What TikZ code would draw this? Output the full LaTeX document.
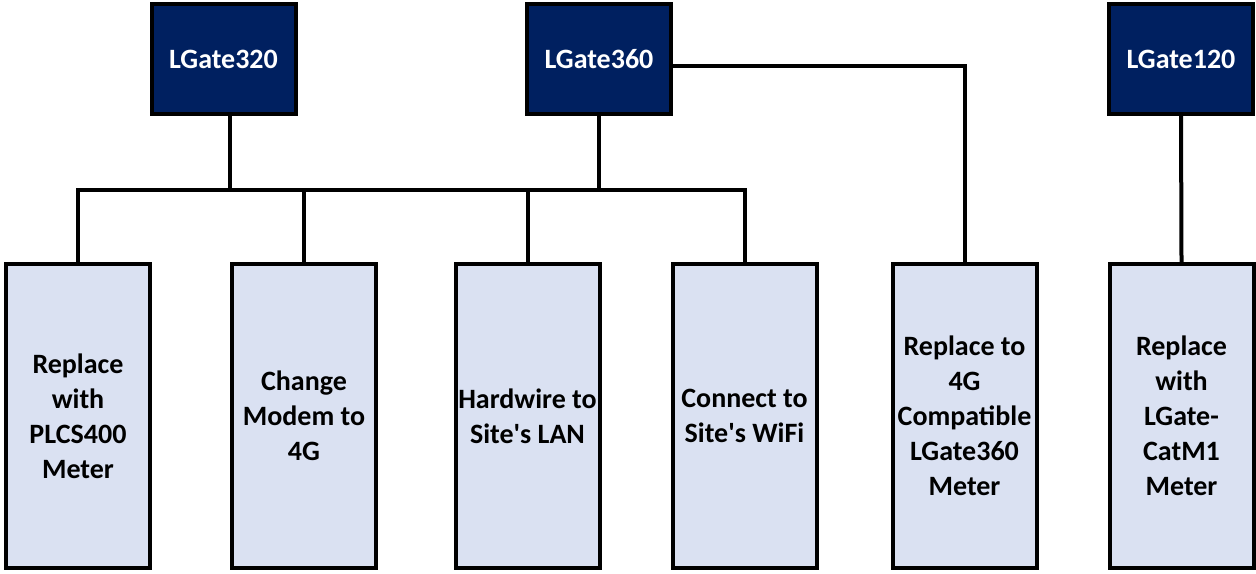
\documentclass[tikz,border=0pt]{standalone}
\usepackage{fontspec}
\setmainfont{Carlito}
\usepackage{tikz}
\definecolor{gatenavy}{HTML}{002060}
\definecolor{optfill}{HTML}{DAE1F2}
\newcommand{\boxline}{2pt}

\begin{document}
\begin{tikzpicture}[x=.5pt, y=-.5pt,
    gate/.style={draw, line width=\boxline, fill=gatenavy, text=white,
      minimum width=72pt, minimum height=55pt, inner sep=0pt,
      font=\fontsize{14}{17.5}\selectfont\bfseries},
    option/.style={draw, line width=\boxline, fill=optfill, text=black,
      minimum width=72pt, minimum height=152pt, inner sep=0pt, align=center,
      font=\fontsize{14}{17.5}\selectfont\bfseries},
    link/.style={line width=\boxline}]
        \useasboundingbox (0,0) rectangle (1256,573);
        \node (g320) at (223.5,59) [gate] {LGate320};
        \node (g360) at (599,59) [gate] {LGate360};
        \node (g120) at (1181,59) [gate] {LGate120};
        \node (r1) at (78,416) [option] {Replace\\with\\PLCS400\\Meter};
        \node (r2) at (304,416) [option] {Change\\Modem to\\4G};
        \node (r3) at (527.5,416) [option] {Hardwire to\\Site\textquotesingle s LAN};
        \node (r4) at (744.5,416) [option] {Connect to\\Site\textquotesingle s WiFi};
        \node (r5) at (964.5,416) [option] {Replace to\\4G\\Compatible\\LGate360\\Meter};
        \node (r6) at (1181.5,416) [option] {Replace\\with\\LGate-\\CatM1\\Meter};
        \coordinate (bus) at (0,190);

        % shared bus for the 320 and 360 options
        \draw[link] (r1.north) -- (r1.north |- bus) -| (r4.north);
        \draw[link] (r2.north) -- (r2.north |- bus);
        \draw[link] (r3.north) -- (r3.north |- bus);
        \draw[link] ([xshift=3pt]g320.south) -- ([xshift=3pt]g320.south |- bus);
        \draw[link] (g360.south) -- (g360.south |- bus);
        \draw[link] ([yshift=-3.5pt]g360.east) -| (r5.north);
        \draw[link] (g120.south) -- (r6.north);
\end{tikzpicture}
\end{document}
